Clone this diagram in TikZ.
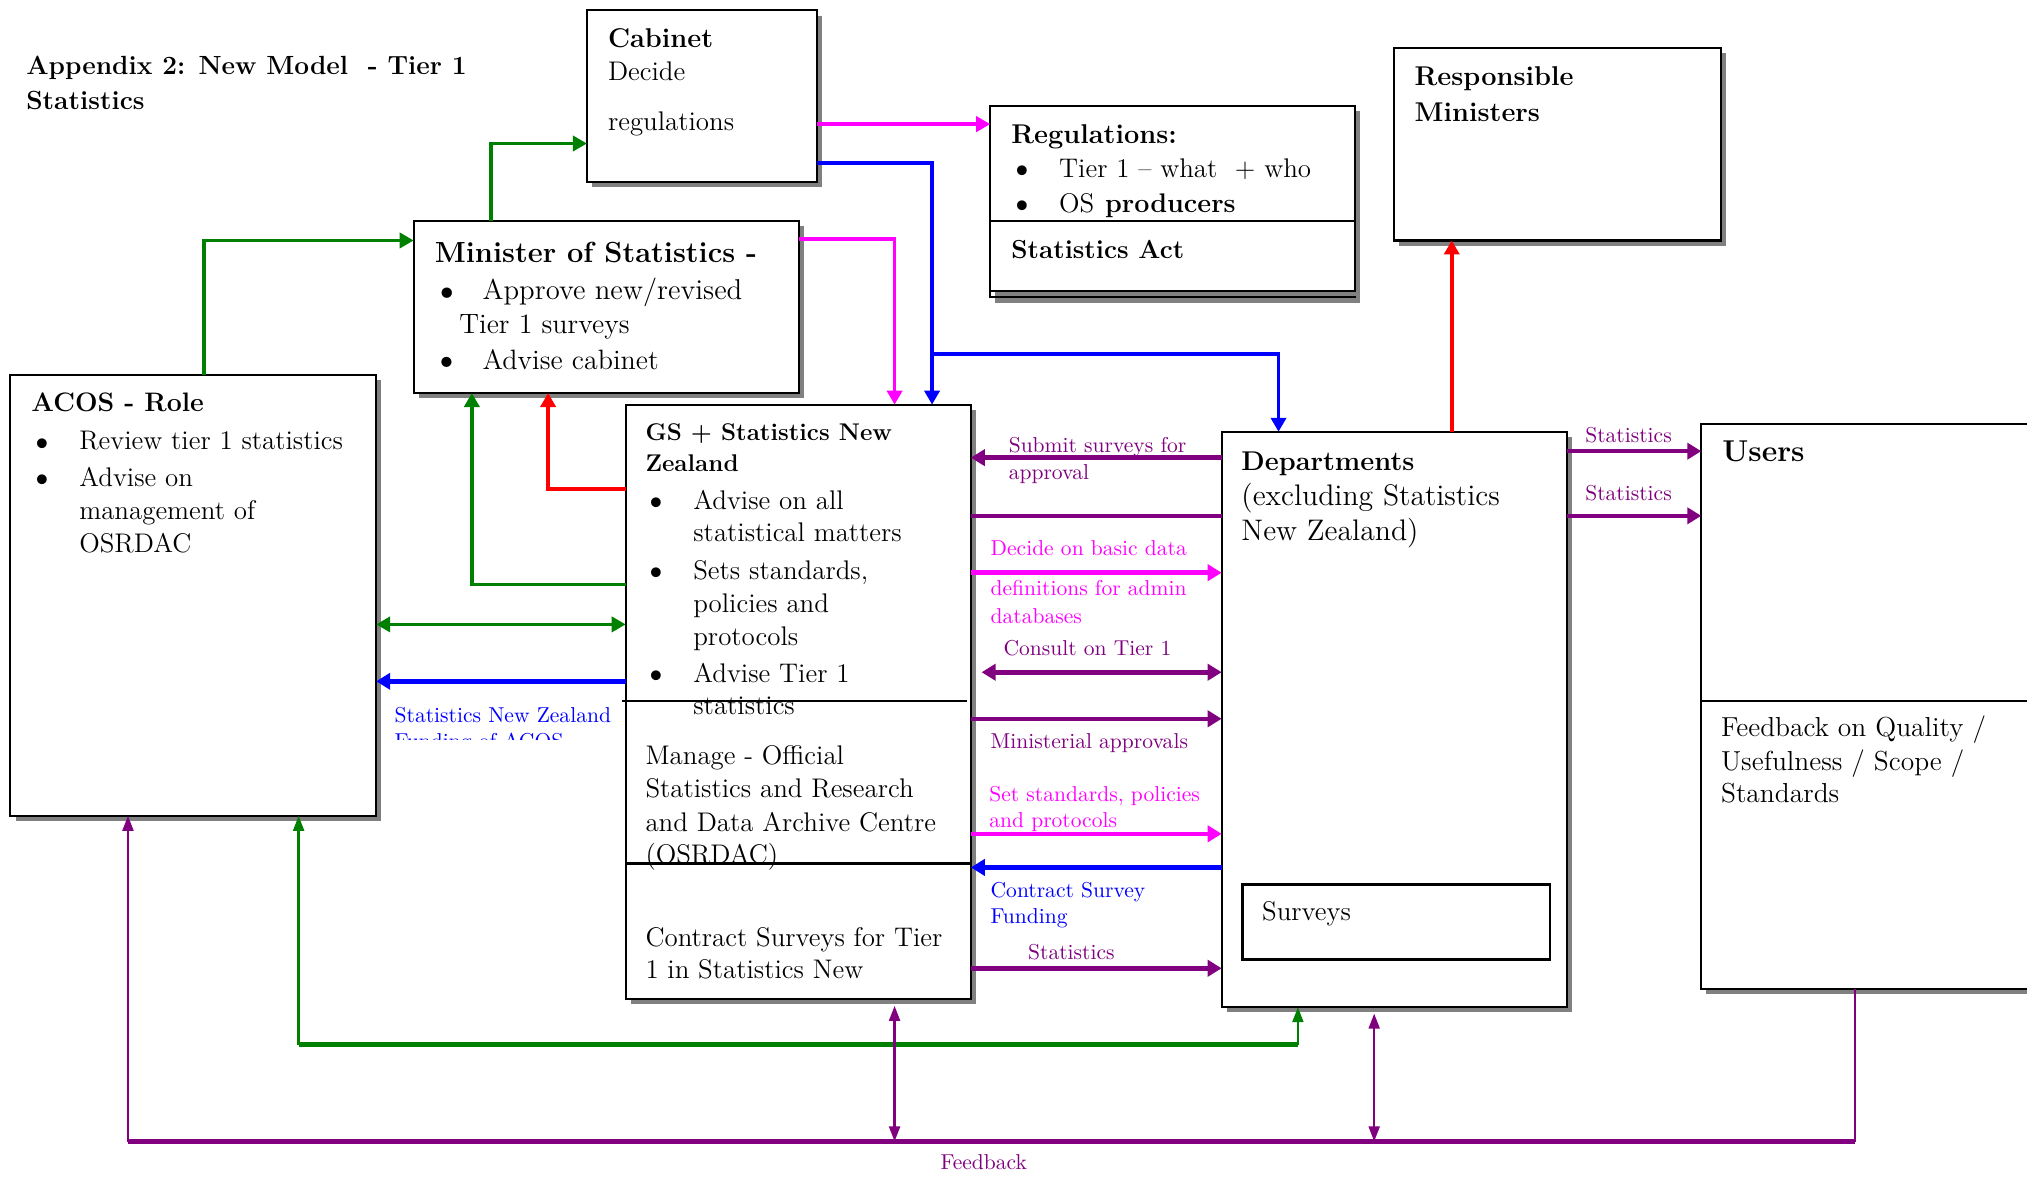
\documentclass[tikz,border=0pt]{standalone}
\usepackage{graphicx}
\usetikzlibrary{arrows.meta}
\definecolor{cgreen}{RGB}{0,128,0}
\definecolor{cmag}{RGB}{255,0,255}
\definecolor{cblue}{RGB}{0,0,255}
\definecolor{cred}{RGB}{255,0,0}
\definecolor{cpurp}{RGB}{128,0,128}
\definecolor{shadowc}{RGB}{128,128,128}
\newcommand\mkbox[5]{%
  \fill[shadowc] ({#2+4},{#3+4}) rectangle ({#4+4},{#5+4});
  \node[boxst, minimum width={(#4-#2)*0.6pt}, minimum height={(#5-#3)*0.6pt}] (#1) at ({(#2+#4)/2},{(#3+#5)/2}) {};}
\newcommand\bul{\makebox[0pt][l]{\hspace*{-1.2pt}\smash{\raisebox{-0.08em}{\scalebox{1.35}{\textbullet}}}}}
\begin{document}
\begin{tikzpicture}[x=0.6pt,y=-0.6pt,
  boxst/.style={draw=black, fill=white, line width=1pt, inner sep=0pt, outer sep=0pt},
  txt/.style={anchor=base west, inner sep=0pt, font=\fontsize{12.5}{15}\selectfont},
  hd/.style={anchor=base west, inner sep=0pt, font=\fontsize{12.6}{15}\selectfont\bfseries},
  lbl/.style={anchor=base west, inner sep=0pt, font=\fontsize{10}{12}\selectfont},
  thk/.style={line width=2.1pt, >={Triangle[length=6.5pt,width=7.5pt]}},
  med/.style={line width=1.7pt, >={Triangle[length=6.5pt,width=7pt]}},
  thn/.style={line width=1.2pt, >={Triangle[length=7pt,width=5pt]}},
  gline/.style={draw=cgreen}, rline/.style={draw=cred}, mline/.style={draw=cmag},
  bline/.style={draw=cblue}, pline/.style={draw=cpurp}]
\clip (0,0) rectangle (1568,910);
\fill[white] (0,0) rectangle (1568,910);

% title
\node[hd, font=\fontsize{12.2}{15}\selectfont\bfseries] (title1) at (20,58) {Appendix 2: New Model \ - Tier 1};
\node[hd, font=\fontsize{12.2}{15}\selectfont\bfseries] (title2) at (20,85) {Statistics};

% boxes
\mkbox{cabinet}{454}{8}{632}{141}
\fill[shadowc] (770,86) rectangle (1052,234);
\draw[black, line width=0.8pt, fill=white] (766,84) rectangle (1048,229.5);
\mkbox{regs}{766}{82}{1048}{225}
\draw[line width=1pt] (regs.west |- 0,171) -- (regs.east |- 0,171);
\mkbox{resp}{1078}{37}{1331}{186}
\mkbox{minister}{320}{171}{618}{304}
\mkbox{acos}{8}{290}{291}{631}
\mkbox{gs}{484}{313}{751}{773}
\mkbox{dept}{945}{334}{1212}{779}
\mkbox{users}{1316}{328}{1580}{765}
\draw[line width=1pt] (users.west |- 0,542) -- (1580,542);
\node[boxst, line width=1.2pt, minimum width={238*0.6pt}, minimum height={58*0.6pt}] (surveys) at (1080,713) {};

% box texts
\node[hd] (cab1) at (470,37) {Cabinet};
\node[txt] (cab2) at (470,62) {Decide};
\node[txt] (cab3) at (470,101) {regulations};

\node[hd] (reg1) at (782,111) {Regulations:};
\node[txt] (reg2) at (782,137) {\bul\hspace*{37\dimexpr0.6pt\relax}Tier 1 -- what \ + who};
\node[txt] (reg3) at (782,164) {\bul\hspace*{37\dimexpr0.6pt\relax}OS\hspace{5pt}\textbf{producers}};
\node[hd, font=\fontsize{12.1}{15}\selectfont\bfseries] (reg4) at (782,200) {Statistics Act};

\node[hd] (resp1) at (1094,66) {Responsible};
\node[hd] (resp2) at (1094,94) {Ministers};

\node[hd, font=\fontsize{13.5}{17}\selectfont\bfseries] (min1) at (336,203) {Minister of Statistics -};
\node[txt, font=\fontsize{13.3}{16}\selectfont] (min2) at (336,232) {\bul\hspace*{37\dimexpr0.6pt\relax}Approve new/revised};
\node[txt, font=\fontsize{13}{16}\selectfont] (min3) at (355,258) {Tier 1 surveys};
\node[txt, font=\fontsize{13}{16}\selectfont] (min4) at (336,286) {\bul\hspace*{37\dimexpr0.6pt\relax}Advise cabinet};

\node[hd, font=\fontsize{12.4}{15}\selectfont\bfseries] (acos1) at (24,318) {ACOS - Role};
\node[txt] (acos2) at (24,348) {\bul\hspace*{37\dimexpr0.6pt\relax}Review tier 1 statistics};
\node[txt] (acos3) at (24,376) {\bul\hspace*{37\dimexpr0.6pt\relax}Advise on};
\node[txt] (acos4) at (61,402) {management of};
\node[txt] (acos5) at (61,427) {OSRDAC};

\node[hd, font=\fontsize{11.2}{14}\selectfont\bfseries] (gs1) at (499,341) {GS + Statistics New};
\node[hd, font=\fontsize{11.2}{14}\selectfont\bfseries] (gs2) at (499,365) {Zealand};
\node[txt] (gs3) at (499,394) {\bul\hspace*{37\dimexpr0.6pt\relax}Advise on all};
\node[txt] (gs4) at (536,419) {statistical matters};
\node[txt] (gs5) at (499,448) {\bul\hspace*{37\dimexpr0.6pt\relax}Sets standards,};
\node[txt] (gs6) at (536,474) {policies and};
\node[txt] (gs7) at (536,499) {protocols};
\node[txt] (gs8) at (499,528) {\bul\hspace*{37\dimexpr0.6pt\relax}Advise Tier 1};
\node[txt] (gs9) at (536,553) {statistics};
\draw[line width=1pt] (481,542) -- (748,542);
\node[txt] (gs10) at (499,591) {Manage - Official};
\node[txt] (gs11) at (499,617) {Statistics and Research};
\node[txt] (gs12) at (499,643) {and Data Archive Centre};
\node[txt] (gs13) at (499,668) {(OSRDAC)};
\draw[line width=1pt] (gs.west |- 0,668) -- (gs.east |- 0,668);
\node[txt] (gs14) at (499,732) {Contract Surveys for Tier};
\node[txt] (gs15) at (499,757) {1 in Statistics New};

\node[hd] (dep1) at (960,364) {Departments};
\node[txt, font=\fontsize{13.8}{16}\selectfont] (dep2) at (960,391) {(excluding Statistics};
\node[txt, font=\fontsize{13.8}{16}\selectfont] (dep3) at (960,418) {New Zealand)};
\node[txt] (surv1) at (976,712) {Surveys};

\node[hd, font=\fontsize{14}{17}\selectfont\bfseries] (us1) at (1332,357) {Users};
\node[txt, font=\fontsize{12.75}{15}\selectfont] (us2) at (1331,570) {Feedback on Quality /};
\node[txt, font=\fontsize{12.75}{15}\selectfont] (us3) at (1331,596) {Usefulness / Scope /};
\node[txt, font=\fontsize{12.75}{15}\selectfont] (us4) at (1331,621) {Standards};

% green connectors
\draw[gline, med, ->] (acos.north -| 158,0) |- (minister.west |- 0,186);
\draw[gline, med, ->] (minister.north -| 380,0) |- (cabinet.west |- 0,111);
\draw[gline, med, ->] (gs.west |- 0,452) -| (minister.south -| 365,0);
\draw[gline, med, <->] (acos.east |- 0,483) -- (gs.west |- 0,483);
\coordinate (g1) at (231,808);
\coordinate (g2) at (1004,808);
\draw[gline, thn, ->] (g1) -- (acos.south -| g1);
\draw[gline, thk] (g1) -- (g2);
\draw[gline, thn, ->] (g2) -- (dept.south -| g2);

% red connectors
\draw[rline, med, ->] (gs.west |- 0,378) -| (minister.south -| 424,0);
\draw[rline, med, ->] (dept.north -| 1123,0) -- (resp.south -| 1123,0);

% magenta connectors
\draw[mline, med, ->] (cabinet.east |- 0,96) -- (regs.west |- 0,96);
\draw[mline, med, ->] (minister.east |- 0,185) -| (gs.north -| 692,0);
\draw[mline, thk, ->] (gs.east |- 0,443) -- (dept.west |- 0,443);
\draw[mline, thk, ->] (gs.east |- 0,645) -- (dept.west |- 0,645);

% blue connectors
\draw[bline, med, ->] (cabinet.east |- 0,126) -| (gs.north -| 721,0);
\coordinate (bj) at (721,274);
\draw[bline, med, ->] (bj) -| (dept.north -| 989,0);
\draw[bline, thk, ->] (gs.west |- 0,527) -- (acos.east |- 0,527);
\draw[bline, thk, ->] (dept.west |- 0,671) -- (gs.east |- 0,671);

% purple connectors
\draw[pline, thk, ->] (dept.west |- 0,354) -- (gs.east |- 0,354);
\draw[pline, thk] (gs.east |- 0,399) -- (dept.west |- 0,399);
\draw[pline, thk, <->, shorten <=5pt] (gs.east |- 0,520) -- (dept.west |- 0,520);
\draw[pline, thk, ->] (gs.east |- 0,556) -- (dept.west |- 0,556);
\draw[pline, thk, ->] (gs.east |- 0,749) -- (dept.west |- 0,749);
\draw[pline, thk, ->] (dept.east |- 0,349) -- (users.west |- 0,349);
\draw[pline, thk, ->] (dept.east |- 0,399) -- (users.west |- 0,399);
\coordinate (f1) at (1435,883);
\coordinate (f0) at (99,883);
\draw[pline, thn] (users.south -| f1) -- (f1);
\draw[pline, thk] (f1) -- (f0);
\draw[pline, thn, ->] (f0) -- (acos.south -| f0);
\draw[pline, thn, <->, shorten <=3pt] (gs.south -| 692,0) -- (692,883);
\draw[pline, thn, <->, shorten <=3pt] (dept.south -| 1063,0) -- (1063,883);

% connector labels
\node[lbl, text=cpurp] (l1) at (780,350) {Submit surveys for};
\node[lbl, text=cpurp] (l2) at (780,371) {approval};
\node[lbl, text=cmag] (l3) at (766,430) {Decide on basic data};
\node[lbl, text=cmag] (l4) at (766,461) {definitions for admin};
\node[lbl, text=cmag] (l5) at (766,482) {databases};
\node[lbl, text=cpurp] (l6) at (776,507) {Consult on Tier 1};
\node[lbl, text=cpurp] (l7) at (766,579) {Ministerial approvals};
\node[lbl, text=cmag] (l8) at (765,620) {Set standards, policies};
\node[lbl, text=cmag] (l9) at (765,640) {and protocols};
\node[lbl, text=cblue] (l10) at (766,694) {Contract Survey};
\node[lbl, text=cblue] (l11) at (766,714) {Funding};
\node[lbl, text=cpurp] (l12) at (795,742) {Statistics};
\node[lbl, text=cpurp] (l13) at (1226,342) {Statistics};
\node[lbl, text=cpurp] (l14) at (1226,387) {Statistics};
\node[lbl, text=cblue] (l15) at (305,559) {Statistics New Zealand};
\begin{scope}
\clip (300,562) rectangle (480,572);
\node[lbl, text=cblue] (l16) at (305,579) {Funding of ACOS};
\end{scope}
\node[lbl, text=cpurp, anchor=base] (l17) at (761,905) {Feedback};
\end{tikzpicture}
\end{document}
